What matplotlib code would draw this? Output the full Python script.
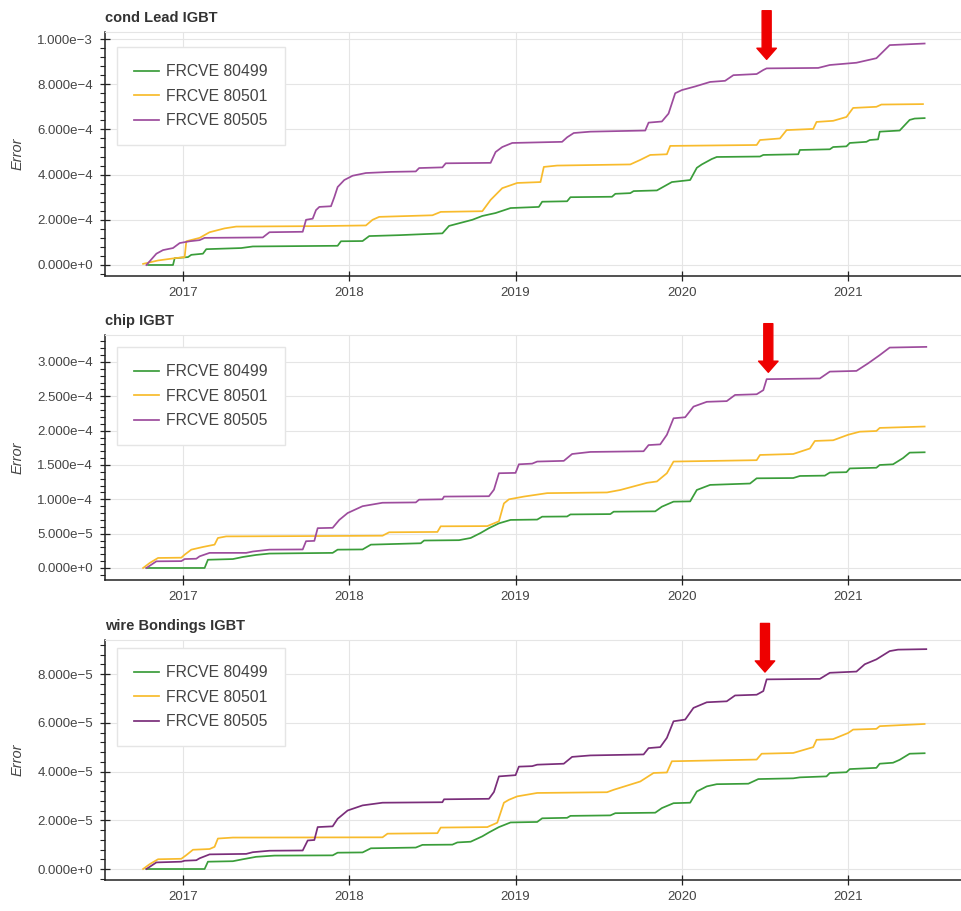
import matplotlib
matplotlib.use("Agg")
import matplotlib.pyplot as plt
from matplotlib.ticker import MultipleLocator, FuncFormatter

plt.rcParams["font.family"] = ["Liberation Sans", "DejaVu Sans"]

LABELS = ["FRCVE 80499", "FRCVE 80501", "FRCVE 80505"]
YEARS = [2017, 2018, 2019, 2020, 2021]
TITLES = ["cond Lead IGBT", "chip IGBT", "wire Bondings IGBT"]

# cumulative error, decimal year vs value
# --- cond Lead IGBT (units of 1e-4) ---
LEAD_SCALE = 1e-4
LEAD_X_80499 = [2016.79, 2016.94, 2016.95, 2017.03, 2017.05, 2017.12, 2017.14, 2017.35, 2017.42, 2017.93,
                2017.95, 2018.08, 2018.12, 2018.30, 2018.56, 2018.60, 2018.74, 2018.80, 2018.88, 2018.97,
                2019.14, 2019.16, 2019.31, 2019.33, 2019.58, 2019.60, 2019.69, 2019.71, 2019.85, 2019.94,
                2020.05, 2020.09, 2020.12, 2020.18, 2020.21, 2020.47, 2020.49, 2020.70, 2020.71, 2020.89,
                2020.91, 2020.99, 2021.01, 2021.11, 2021.13, 2021.18, 2021.19, 2021.31, 2021.37, 2021.40,
                2021.46]
LEAD_Y_80499 = [0, 0, 0.3, 0.35, 0.45, 0.5, 0.7, 0.75, 0.82, 0.85,
                1.05, 1.06, 1.28, 1.32, 1.4, 1.73, 2.0, 2.17, 2.3, 2.52,
                2.57, 2.8, 2.82, 3.0, 3.02, 3.15, 3.18, 3.27, 3.3, 3.67,
                3.76, 4.3, 4.45, 4.69, 4.78, 4.8, 4.87, 4.9, 5.09, 5.12,
                5.22, 5.25, 5.4, 5.45, 5.53, 5.56, 5.9, 5.95, 6.42, 6.48,
                6.5]
LEAD_X_80501 = [2016.76, 2016.85, 2016.95, 2017.01, 2017.02, 2017.10, 2017.16, 2017.25, 2017.32, 2017.80,
                2018.10, 2018.14, 2018.18, 2018.50, 2018.55, 2018.80, 2018.85, 2018.92, 2019.01, 2019.15,
                2019.17, 2019.25, 2019.69, 2019.75, 2019.81, 2019.91, 2019.93, 2020.45, 2020.47, 2020.59,
                2020.63, 2020.79, 2020.81, 2020.91, 2020.99, 2021.03, 2021.17, 2021.20, 2021.45]
LEAD_Y_80501 = [0.05, 0.2, 0.3, 0.35, 1.05, 1.2, 1.45, 1.62, 1.7, 1.72,
                1.75, 2.0, 2.13, 2.2, 2.35, 2.38, 2.88, 3.4, 3.63, 3.67,
                4.34, 4.4, 4.45, 4.65, 4.87, 4.9, 5.27, 5.31, 5.53, 5.6,
                5.97, 6.02, 6.33, 6.38, 6.55, 6.95, 7.0, 7.1, 7.12]
LEAD_X_80505 = [2016.78, 2016.84, 2016.88, 2016.94, 2016.98, 2017.04, 2017.10, 2017.13, 2017.48, 2017.52,
                2017.72, 2017.74, 2017.78, 2017.80, 2017.82, 2017.89, 2017.91, 2017.93, 2017.97, 2018.02,
                2018.10, 2018.25, 2018.40, 2018.42, 2018.56, 2018.58, 2018.85, 2018.88, 2018.92, 2018.98,
                2019.28, 2019.31, 2019.35, 2019.45, 2019.78, 2019.80, 2019.88, 2019.92, 2019.96, 2020.00,
                2020.08, 2020.17, 2020.26, 2020.31, 2020.45, 2020.49, 2020.51, 2020.82, 2020.89, 2021.05,
                2021.17, 2021.25, 2021.46]
LEAD_Y_80505 = [0, 0.5, 0.66, 0.75, 0.97, 1.05, 1.1, 1.2, 1.22, 1.45,
                1.47, 2.0, 2.05, 2.43, 2.57, 2.6, 3.0, 3.45, 3.76, 3.95,
                4.07, 4.12, 4.14, 4.29, 4.32, 4.5, 4.52, 5.0, 5.22, 5.4,
                5.45, 5.65, 5.84, 5.9, 5.95, 6.3, 6.35, 6.7, 7.6, 7.74,
                7.9, 8.1, 8.15, 8.4, 8.45, 8.63, 8.7, 8.72, 8.85, 8.95,
                9.15, 9.73, 9.8]

# --- chip IGBT (units of 1e-5) ---
CHIP_SCALE = 1e-5
CHIP_X_80499 = [2016.78, 2017.13, 2017.15, 2017.30, 2017.36, 2017.44, 2017.52, 2017.90, 2017.93, 2018.08,
                2018.13, 2018.43, 2018.45, 2018.66, 2018.73, 2018.79, 2018.84, 2018.90, 2018.97, 2019.13,
                2019.16, 2019.31, 2019.33, 2019.57, 2019.59, 2019.84, 2019.88, 2019.95, 2020.05, 2020.09,
                2020.17, 2020.41, 2020.45, 2020.67, 2020.71, 2020.86, 2020.89, 2020.99, 2021.01, 2021.17,
                2021.19, 2021.27, 2021.33, 2021.37, 2021.46]
CHIP_Y_80499 = [0, 0, 1.2, 1.3, 1.6, 1.9, 2.1, 2.2, 2.67, 2.7,
                3.4, 3.6, 4.0, 4.05, 4.37, 5.1, 5.8, 6.5, 7.0, 7.05,
                7.47, 7.5, 7.8, 7.85, 8.2, 8.25, 8.93, 9.66, 9.7, 11.36,
                12.1, 12.3, 13.06, 13.1, 13.4, 13.45, 13.9, 13.95, 14.5, 14.6,
                15.0, 15.1, 16.0, 16.8, 16.85]
CHIP_X_80501 = [2016.76, 2016.80, 2016.85, 2016.99, 2017.01, 2017.05, 2017.12, 2017.19, 2017.21, 2017.26,
                2017.78, 2018.20, 2018.24, 2018.53, 2018.55, 2018.83, 2018.90, 2018.93, 2018.96, 2019.05,
                2019.19, 2019.55, 2019.63, 2019.79, 2019.85, 2019.91, 2019.95, 2020.45, 2020.47, 2020.67,
                2020.77, 2020.80, 2020.91, 2021.00, 2021.07, 2021.17, 2021.19, 2021.46]
CHIP_Y_80501 = [0, 0.73, 1.46, 1.5, 1.94, 2.67, 3.06, 3.4, 4.37, 4.6,
                4.65, 4.7, 5.2, 5.25, 6.07, 6.1, 6.8, 9.4, 10.0, 10.4,
                10.9, 11.0, 11.36, 12.4, 12.6, 13.8, 15.5, 15.7, 16.46, 16.6,
                17.4, 18.5, 18.6, 19.4, 19.85, 19.95, 20.4, 20.6]
CHIP_X_80505 = [2016.78, 2016.84, 2016.99, 2017.01, 2017.08, 2017.10, 2017.16, 2017.38, 2017.42, 2017.52,
                2017.72, 2017.74, 2017.79, 2017.81, 2017.90, 2017.94, 2017.99, 2018.08, 2018.20, 2018.40,
                2018.42, 2018.56, 2018.57, 2018.84, 2018.87, 2018.90, 2019.00, 2019.02, 2019.10, 2019.13,
                2019.29, 2019.34, 2019.45, 2019.77, 2019.80, 2019.87, 2019.91, 2019.95, 2020.02, 2020.07,
                2020.15, 2020.27, 2020.32, 2020.45, 2020.49, 2020.51, 2020.83, 2020.89, 2021.05, 2021.12,
                2021.19, 2021.25, 2021.47]
CHIP_Y_80505 = [0, 0.97, 1.0, 1.3, 1.35, 1.7, 2.2, 2.2, 2.4, 2.67,
                2.7, 3.9, 3.95, 5.8, 5.85, 7.0, 8.0, 9.0, 9.5, 9.55,
                9.95, 10.0, 10.4, 10.45, 11.4, 13.8, 13.85, 15.1, 15.2, 15.5,
                15.6, 16.6, 16.9, 17.0, 17.9, 18.0, 19.4, 21.8, 21.95, 23.5,
                24.2, 24.3, 25.2, 25.3, 25.9, 27.5, 27.6, 28.6, 28.7, 29.8,
                31.0, 32.1, 32.2]

# --- wire Bondings IGBT (units of 1e-5) ---
WIRE_SCALE = 1e-5
WIRE_X_80499 = [2016.78, 2017.13, 2017.15, 2017.30, 2017.36, 2017.44, 2017.55, 2017.90, 2017.93, 2018.08,
                2018.13, 2018.40, 2018.44, 2018.62, 2018.65, 2018.73, 2018.80, 2018.84, 2018.90, 2018.97,
                2019.13, 2019.16, 2019.31, 2019.33, 2019.57, 2019.60, 2019.84, 2019.88, 2019.95, 2020.05,
                2020.09, 2020.15, 2020.21, 2020.40, 2020.46, 2020.67, 2020.71, 2020.87, 2020.89, 2020.99,
                2021.01, 2021.17, 2021.19, 2021.27, 2021.31, 2021.37, 2021.46]
WIRE_Y_80499 = [0, 0, 0.3, 0.32, 0.4, 0.5, 0.55, 0.56, 0.67, 0.68,
                0.85, 0.88, 0.99, 1.0, 1.09, 1.12, 1.34, 1.5, 1.72, 1.91,
                1.93, 2.08, 2.1, 2.18, 2.2, 2.29, 2.31, 2.5, 2.7, 2.72,
                3.18, 3.39, 3.48, 3.5, 3.69, 3.72, 3.76, 3.8, 3.94, 3.97,
                4.1, 4.15, 4.32, 4.36, 4.48, 4.73, 4.75]
WIRE_X_80501 = [2016.76, 2016.80, 2016.85, 2016.99, 2017.02, 2017.06, 2017.16, 2017.19, 2017.21, 2017.30,
                2018.20, 2018.23, 2018.53, 2018.55, 2018.83, 2018.89, 2018.93, 2018.96, 2019.01, 2019.13,
                2019.55, 2019.59, 2019.75, 2019.83, 2019.91, 2019.94, 2020.45, 2020.48, 2020.67, 2020.79,
                2020.81, 2020.91, 2021.00, 2021.03, 2021.17, 2021.19, 2021.46]
WIRE_Y_80501 = [0, 0.2, 0.4, 0.42, 0.57, 0.79, 0.82, 0.91, 1.25, 1.29,
                1.3, 1.45, 1.47, 1.7, 1.72, 1.9, 2.72, 2.84, 2.98, 3.12,
                3.15, 3.25, 3.59, 3.94, 3.96, 4.42, 4.49, 4.73, 4.76, 5.0,
                5.3, 5.33, 5.58, 5.72, 5.75, 5.86, 5.95]
WIRE_X_80505 = [2016.78, 2016.84, 2016.99, 2017.01, 2017.08, 2017.10, 2017.16, 2017.38, 2017.42, 2017.52,
                2017.72, 2017.75, 2017.79, 2017.81, 2017.90, 2017.93, 2017.99, 2018.08, 2018.20, 2018.56,
                2018.57, 2018.84, 2018.87, 2018.90, 2019.00, 2019.02, 2019.10, 2019.13, 2019.29, 2019.34,
                2019.45, 2019.77, 2019.80, 2019.87, 2019.91, 2019.95, 2020.02, 2020.07, 2020.15, 2020.27,
                2020.32, 2020.45, 2020.49, 2020.51, 2020.83, 2020.89, 2021.05, 2021.10, 2021.17, 2021.25,
                2021.30, 2021.47]
WIRE_Y_80505 = [0, 0.27, 0.3, 0.34, 0.36, 0.44, 0.6, 0.62, 0.69, 0.75,
                0.76, 1.17, 1.19, 1.72, 1.75, 2.06, 2.4, 2.61, 2.72, 2.74,
                2.86, 2.88, 3.16, 3.8, 3.85, 4.2, 4.22, 4.28, 4.32, 4.6,
                4.66, 4.7, 4.96, 5.0, 5.38, 6.06, 6.13, 6.61, 6.84, 6.88,
                7.12, 7.15, 7.3, 7.78, 7.8, 8.05, 8.1, 8.4, 8.6, 8.94,
                9.0, 9.02]

# arrow tips marking the mid-2020 step (year, value)
ARROW_TIPS = [(2020.51, 9.1e-4), (2020.52, 2.85e-4), (2020.50, 8.08e-5)]

GREEN, YELLOW = "#3a9d3a", "#f8bb2c"
PURPLES = ["#9d4c9d", "#9d4c9d", "#7a2e7a"]
TXT = "#444444"
GRID = "#e5e5e5"

# y axis layout per panel: major step, minor step, limits
Y_MAJOR = [2e-4, 5e-5, 2e-5]
Y_MINOR = [4e-5, 1e-5, 4e-6]
Y_LIMS = [(-4.87e-5, 1.031e-3), (-1.75e-5, 3.393e-4), (-4.51e-6, 9.395e-5)]
X_LIM = (2016.531, 2021.763)

W, H = 962, 911
# panel boxes in pixels: left, top, bottom
BOXES = [(105, 32, 276), (105, 335, 580), (105, 640, 880)]
RIGHT = 975
LEGEND_TOPS = [47, 347, 648]


def sci_fmt(v, pos):
    mant, exp = f"{v:.3e}".split("e")
    return f"{mant}e{int(exp):+d}".replace("-", "\u2212")


panels = [
    (LEAD_SCALE, [(LEAD_X_80499, LEAD_Y_80499), (LEAD_X_80501, LEAD_Y_80501), (LEAD_X_80505, LEAD_Y_80505)]),
    (CHIP_SCALE, [(CHIP_X_80499, CHIP_Y_80499), (CHIP_X_80501, CHIP_Y_80501), (CHIP_X_80505, CHIP_Y_80505)]),
    (WIRE_SCALE, [(WIRE_X_80499, WIRE_Y_80499), (WIRE_X_80501, WIRE_Y_80501), (WIRE_X_80505, WIRE_Y_80505)]),
]

fig = plt.figure(figsize=(W / 100, H / 100), dpi=100)

for i, (scale, series) in enumerate(panels):
    left, top, bottom = BOXES[i]
    ax = fig.add_axes([left / W, 1 - bottom / H, (RIGHT - left) / W, (bottom - top) / H])
    colors = [GREEN, YELLOW, PURPLES[i]]
    for (xs, ys), c, lab in zip(series, colors, LABELS):
        ax.plot(xs, [v * scale for v in ys], color=c, lw=1.25, label=lab)

    ax.set_xlim(*X_LIM)
    ax.set_ylim(*Y_LIMS[i])
    ax.set_xticks(YEARS, [str(y) for y in YEARS])
    ax.yaxis.set_major_locator(MultipleLocator(Y_MAJOR[i]))
    ax.yaxis.set_minor_locator(MultipleLocator(Y_MINOR[i]))
    ax.yaxis.set_major_formatter(FuncFormatter(sci_fmt))

    ax.grid(True, which="major", color=GRID, lw=0.8)
    ax.set_axisbelow(True)
    for s in ("left", "bottom"):
        ax.spines[s].set_color("#222222")
        ax.spines[s].set_linewidth(1.1)
    for s in ("top", "right"):
        ax.spines[s].set_color(GRID)
        ax.spines[s].set_linewidth(0.8)

    ax.tick_params(axis="both", which="major", direction="inout", length=7.2, width=0.9,
                   color="#222222", labelcolor=TXT, labelsize=9.5)
    ax.tick_params(axis="y", which="major", pad=5)
    ax.tick_params(axis="x", which="major", pad=4.5)
    ax.tick_params(axis="y", which="minor", direction="out", length=3.6, width=0.8, color="#222222")

    ax.set_title(TITLES[i], loc="left", fontsize=10.5, fontweight="bold", color="#333333", pad=7)
    ax.set_ylabel("Error", style="italic", color=TXT, fontsize=10.5)
    ax.yaxis.set_label_coords(-0.092, 0.5)

    ax.legend(loc="upper left", bbox_to_anchor=(117 / W, 1 - LEGEND_TOPS[i] / H),
              bbox_transform=fig.transFigure, borderaxespad=0, fontsize=11.3,
              labelcolor=TXT, frameon=True, fancybox=False, framealpha=1,
              edgecolor=GRID, borderpad=1.1, handlelength=1.6, handletextpad=0.4,
              labelspacing=0.6)

    tx, ty = ARROW_TIPS[i]
    ax.annotate("", xy=(tx, ty), xytext=(0, 35), textcoords="offset points",
                annotation_clip=False,
                arrowprops=dict(facecolor="#ee0000", edgecolor="#ee0000", width=6.5,
                                headwidth=14, headlength=8, shrink=0))

fig.savefig("out.png", dpi=100)
